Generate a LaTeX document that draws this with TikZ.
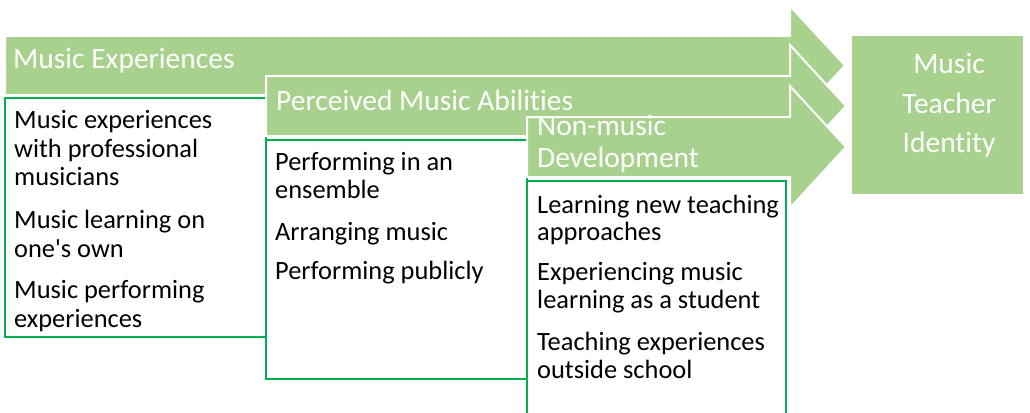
\documentclass[tikz,border=0pt]{standalone}
\usepackage{fontspec}
\setmainfont{Carlito}[Ligatures={NoCommon}]
\definecolor{lg}{HTML}{A9D18E}
\definecolor{dg}{HTML}{00B050}
\tikzset{
  band/.style={fill=lg, draw=white, line width=2pt, line join=miter},
  itembox/.style={draw=dg, fill=white, line width=2pt},
  goalbox/.style={fill=lg, draw=none},
  headtxt/.style={text=white, anchor=base west, inner sep=0pt, font=\fontsize{29.5}{32}\selectfont},
  goaltxt/.style={text=white, anchor=base, inner sep=0pt, font=\fontsize{29.5}{32}\selectfont},
  itemtxt/.style={text=black, anchor=base west, inner sep=0pt, font=\fontsize{26.4}{29}\selectfont},
}
\begin{document}
\begin{tikzpicture}[x=1pt,y=-1pt]
\useasboundingbox (0,0) rectangle (1030,412);
\clip (0,0) rectangle (1030,412);
\fill[white] (0,0) rectangle (1030,412);

% arrow 1
\draw[band] (5,36) -- (790,36) -- (790,6) -- (845,65.5) -- (790,125) -- (790,95) -- (5,95) -- cycle;
\node[headtxt] (h1) at (13,69) {Music Experiences};
% box 1
\draw[itembox] (5,98) rectangle (266,337);
\node[itemtxt] (a1) at (14,128) {Music experiences};
\node[itemtxt] (a2) at (14,157) {with professional};
\node[itemtxt] (a3) at (14,185) {musicians};
\node[itemtxt] (a4) at (14,228) {Music learning on};
\node[itemtxt] (a5) at (14,257) {one\textquotesingle s own};
\node[itemtxt] (a6) at (14,298) {Music performing};
\node[itemtxt] (a7) at (14,327) {experiences};

% arrow 2
\draw[band] (266,76) -- (790,76) -- (790,45) -- (846,106) -- (790,167) -- (790,136) -- (266,136) -- cycle;
\node[headtxt] (h2) at (276,110) {Perceived Music Abilities};
% box 2
\draw[itembox] (266,140) rectangle (527,379);
\node[itemtxt] (b1) at (275,170) {Performing in an};
\node[itemtxt] (b2) at (275,198) {ensemble};
\node[itemtxt] (b3) at (275,240) {Arranging music};
\node[itemtxt] (b4) at (275,279) {Performing publicly};

% arrow 3
\draw[band] (527,117) -- (790,117) -- (790,86) -- (846,147) -- (790,208) -- (790,177) -- (527,177) -- cycle;
\node[headtxt] (h3a) at (537,135) {Non-music};
\node[headtxt] (h3b) at (537,167) {Development};
% box 3
\draw[itembox] (527,181) rectangle (786,430);
\node[itemtxt] (c1) at (537,213) {Learning new teaching};
\node[itemtxt] (c2) at (537,240) {approaches};
\node[itemtxt] (c3) at (537,280) {Experiencing music};
\node[itemtxt] (c4) at (537,308) {learning as a student};
\node[itemtxt] (c5) at (537,350) {Teaching experiences};
\node[itemtxt] (c6) at (537,378) {outside school};

% goal
\fill[goalbox] (852,36) rectangle (1023,194);
\node[goaltxt] (g1) at (949,74) {Music};
\node[goaltxt] (g2) at (949,113) {Teacher};
\node[goaltxt] (g3) at (949,152) {Identity};
\end{tikzpicture}
\end{document}
